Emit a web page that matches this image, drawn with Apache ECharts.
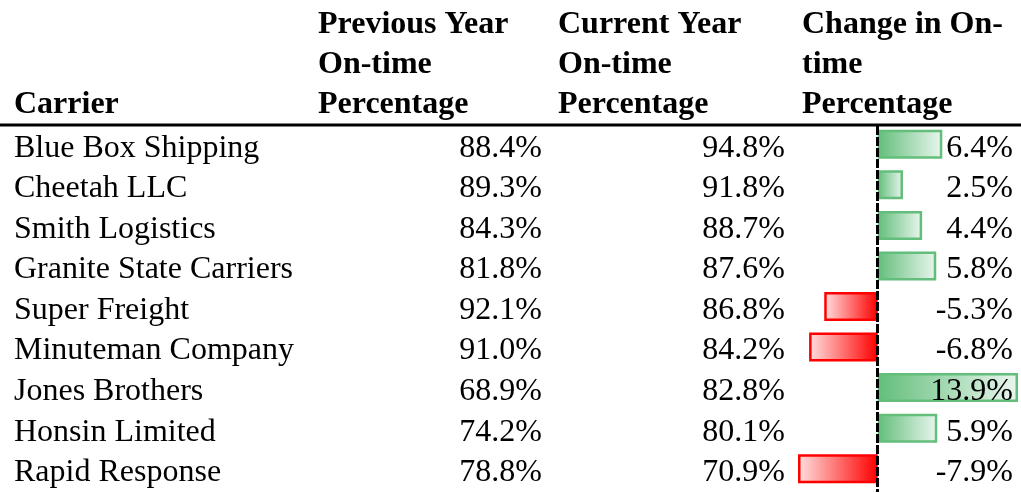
<!DOCTYPE html>
<html><head><meta charset="utf-8">
<script src="https://cdn.jsdelivr.net/npm/echarts@6/dist/echarts.min.js"></script>
<style>html,body{margin:0;padding:0;background:#fff}#c{width:1021px;height:492px}</style>
</head><body><div id="c"></div>
<script>
const carriers = ['Blue Box Shipping','Cheetah LLC','Smith Logistics','Granite State Carriers','Super Freight','Minuteman Company','Jones Brothers','Honsin Limited','Rapid Response'];
const previousYear = [88.4, 89.3, 84.3, 81.8, 92.1, 91.0, 68.9, 74.2, 78.8];
const currentYear = [94.8, 91.8, 88.7, 87.6, 86.8, 84.2, 82.8, 80.1, 70.9];
const change = [6.4, 2.5, 4.4, 5.8, -5.3, -6.8, 13.9, 5.9, -7.9];
const headers = [
  ['Carrier'],
  ['Previous Year', 'On-time', 'Percentage'],
  ['Current Year', 'On-time', 'Percentage'],
  ['Change in On-', 'time', 'Percentage']
];

const FONT = '"Liberation Serif"';
const FS = 32, SX = 1.0;
const headerX = [14, 318, 558, 802];
const colRight = [542, 785, 1013];

const chart = echarts.init(document.getElementById('c'), null, {renderer:'canvas'});

const headerEls = [];
headers.forEach((lines, ci) => {
  const n = lines.length;
  lines.forEach((t, li) => {
    const baseline = 113 - (n - 1 - li) * 40;
    headerEls.push({type:'text', x: headerX[ci], y: baseline - 8, scaleX: SX,
      style:{text:t, x:0, y:0, align:'left', verticalAlign:'middle', font:'bold '+FS+'px '+FONT, fill:'#000'}});
  });
});
headerEls.push({type:'rect', shape:{x:0, y:123.5, width:1021, height:3}, style:{fill:'#000'}});

const barData = change.map(v => {
  const pos = v >= 0;
  return {
    value: v,
    itemStyle: {
      color: new echarts.graphic.LinearGradient(0,0,1,0, pos ?
        [{offset:0,color:'#63BE7B'},{offset:1,color:'#eaf6ee'}] :
        [{offset:0,color:'#ffe0e0'},{offset:1,color:'#ff0000'}]),
      borderColor: pos ? '#63BE7B' : '#ff0000',
      borderWidth: 2.5
    }
  };
});

chart.setOption({
  animation:false,
  graphic: headerEls,
  grid:{left:798, right:3, top:124, bottom:3, containLabel:false},
  xAxis:{type:'value', min:-7.9, max:13.9, show:false},
  yAxis:{type:'category', data:carriers, inverse:true, show:false},
  series:[
    {type:'bar', data:barData, barWidth:29, silent:true, z:2},
    {type:'custom', silent:true, z:5,
      data: carriers.map((c,i) => [0, i]),
      renderItem: (params, api) => {
        const i = api.value(1);
        const cy = api.coord([0, i])[1];
        const y = cy + 4;
        const f = FS + 'px ' + FONT;
        const mk = (x, t, align) => ({type:'text', x:x, y:y, scaleX:SX,
          style:{text:t, x:0, y:0, align:align, verticalAlign:'middle', font:f, fill:'#000'}});
        return {type:'group', children:[
          mk(14, carriers[i], 'left'),
          mk(colRight[0], previousYear[i].toFixed(1)+'%', 'right'),
          mk(colRight[1], currentYear[i].toFixed(1)+'%', 'right'),
          mk(colRight[2], change[i].toFixed(1)+'%', 'right')
        ]};
      }}
  ]
});
const x0 = Math.round(chart.convertToPixel({xAxisIndex:0}, 0)) - 0.5;
chart.setOption({graphic: headerEls.concat([{type:'line', z:4,
  shape:{x1:x0, y1:126, x2:x0, y2:492},
  style:{stroke:'#000', lineWidth:3, lineDash:[9,2]}}])});
</script></body></html>
